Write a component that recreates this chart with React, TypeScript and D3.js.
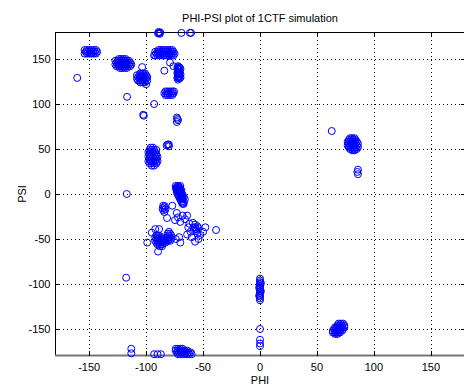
import React from "react";
import * as d3 from "d3";

// Backbone dihedral angles (phi, psi) in degrees, grouped by conformational region
const betaRegion: [number, number][] = [
  // extended strand near (-150, 158)
  [-154, 156], [-152, 156], [-150, 156], [-148, 156], [-146, 156], [-144, 156],
  [-153, 158], [-151, 158], [-149, 158], [-147, 158], [-145, 158], [-143, 158],
  [-154, 160], [-152, 160], [-150, 160], [-148, 160], [-146, 160], [-144, 160],
  // strand near (-120, 145)
  [-123, 140], [-121, 140], [-119, 140], [-117, 140],
  [-126, 142], [-124, 142], [-122, 142], [-120, 142], [-118, 142], [-116, 142], [-114, 142],
  [-127, 144], [-125, 144], [-123, 144], [-121, 144], [-119, 144], [-117, 144], [-115, 144], [-113, 144],
  [-126, 146], [-124, 146], [-122, 146], [-120, 146], [-118, 146], [-116, 146], [-114, 146],
  [-127, 148], [-125, 148], [-123, 148], [-121, 148], [-119, 148], [-117, 148], [-115, 148],
  [-124, 150], [-122, 150], [-120, 150], [-118, 150],
  // strand near (-104, 129)
  [-105, 124], [-103, 124], [-101, 124],
  [-107, 126], [-105, 126], [-103, 126], [-101, 126], [-99, 126],
  [-108, 128], [-106, 128], [-104, 128], [-102, 128], [-100, 128],
  [-107, 130], [-105, 130], [-103, 130], [-101, 130], [-99, 130],
  [-108, 132], [-106, 132], [-104, 132], [-102, 132], [-100, 132],
  [-105, 134], [-103, 134], [-101, 134],
  [-103.5, 141], [-100, 122],
  // scattered
  [-160.5, 129], [-116.7, 108], [-93, 100], [-102.6, 88], [-102, 87],
];

const polyProRegion: [number, number][] = [
  // near (-84, 157)
  [-92, 154], [-90, 154], [-88, 154], [-86, 154], [-84, 154], [-82, 154], [-80, 154], [-78, 154], [-76, 154],
  [-91, 156], [-89, 156], [-87, 156], [-85, 156], [-83, 156], [-81, 156], [-79, 156], [-77, 156], [-75, 156],
  [-92, 158], [-90, 158], [-88, 158], [-86, 158], [-84, 158], [-82, 158], [-80, 158], [-78, 158], [-76, 158],
  [-89, 160], [-87, 160], [-85, 160], [-83, 160], [-81, 160], [-79, 160], [-77, 160],
  [-93, 154], [-79, 146], [-76, 142], [-84, 137],
  // vertical band near (-71, 135)
  [-72, 142], [-70.5, 140.5], [-72, 139], [-70.5, 137.5], [-72, 136], [-70.5, 134.5],
  [-72, 133], [-70.5, 131.5], [-72, 130], [-70.5, 128.5], [-72, 127],
  [-71.3, 141], [-71.3, 138.5], [-71.3, 136], [-71.3, 133.5], [-71.3, 131], [-71.3, 128.5],
  [-72.6, 140.5], [-72.6, 134.5], [-72.6, 129], [-69.8, 139], [-69.8, 133], [-69.8, 129.5],
  // near (-80, 112)
  [-83, 110], [-81, 110], [-79, 110], [-77, 110],
  [-84, 112], [-82, 112], [-80, 112], [-78, 112], [-76, 112],
  [-83, 114], [-81, 114], [-79, 114], [-77, 114], [-75.5, 114],
  // small groups
  [-73, 85], [-72, 82], [-73, 80], [-72.5, 83.5],
  [-88.6, 179], [-88, 178], [-89, 180], [-87.6, 179.5], [-89.6, 178.5],
  [-69, 179], [-61.5, 179], [-60.5, 179],
];

const bridgeRegion: [number, number][] = [
  // near (-94, 42)
  [-96, 51.5], [-94, 51.5],
  [-97, 49], [-95, 49], [-93, 49], [-91, 49],
  [-98, 46.5], [-96, 46.5], [-94, 46.5], [-92, 46.5],
  [-97, 44], [-95, 44], [-93, 44], [-91, 44],
  [-98, 41.5], [-96, 41.5], [-94, 41.5], [-92, 41.5], [-90, 41.5],
  [-97, 39], [-95, 39], [-93, 39], [-91, 39],
  [-98, 36.5], [-96, 36.5], [-94, 36.5], [-92, 36.5], [-90, 36.5],
  [-97, 34], [-95, 34], [-93, 34], [-91, 34],
  [-95, 31.5], [-93, 31.5],
  [-81, 55], [-80, 53], [-82, 54], [-80, 55],
  [-117, 0],
  // diagonal band near (-70, 0)
  [-74, 9], [-72, 9], [-70, 9],
  [-74, 6.5], [-72, 6.5], [-70, 6.5],
  [-73, 4], [-71, 4], [-69, 4],
  [-73, 1.5], [-71, 1.5], [-69, 1.5],
  [-72, -1], [-70, -1], [-68, -1],
  [-71, -3.5], [-69, -3.5], [-67, -3.5],
  [-70, -6], [-68, -6], [-66, -6],
  [-69, -8.5], [-67, -8.5],
  [-68, -11], [-67, -11],
  [-73, 7.8], [-71, 7.8], [-72, 2.8], [-70, 2.8], [-71, -2.2], [-69, -2.2],
  [-70, -4.8], [-68, -4.8], [-68, -9.8], [-69, 0.2], [-73, 5.2], [-71, 5.2],
  // near (-84, -16)
  [-85, -13], [-84, -15], [-85, -18], [-84, -20], [-83, -17], [-85.5, -16], [-83.5, -13.5],
  [-77, -13], [-73, -21], [-81.6, -26.7], [-74.6, -29], [-70, -31], [-64, -24], [-65.8, -28], [-72, -26], [-68, -24],
];

const helixRegion: [number, number][] = [
  // left lobe near (-89, -52)
  [-91, -46], [-89, -46],
  [-92, -48], [-90, -48], [-88, -48], [-86, -48],
  [-91, -50], [-89, -50], [-87, -50], [-85, -50],
  [-92, -52], [-90, -52], [-88, -52], [-86, -52], [-84, -52],
  [-91, -54], [-89, -54], [-87, -54], [-85, -54], [-83, -54],
  [-90, -56], [-88, -56], [-86, -56],
  [-88, -58], [-86, -58],
  // right lobe near (-80, -47)
  [-80, -42], [-81, -44], [-79, -44], [-80, -46], [-78, -46], [-81, -48], [-79, -48],
  [-82, -50], [-80, -50], [-78, -50], [-83, -52], [-81, -52], [-79, -52],
  [-92, -39], [-88.6, -39], [-99, -54], [-89.5, -64], [-71, -48], [-70, -54], [-74, -50], [-95, -43],
  // near (-56, -40)
  [-57, -37], [-55, -36], [-56, -39], [-58, -40], [-54, -38], [-57, -34], [-56, -41.5], [-58.5, -37.5],
  [-63, -37], [-48, -37], [-60, -48], [-57, -53], [-52.6, -45.5], [-61, -42], [-64, -45], [-50, -42],
  [-54, -50], [-59, -32], [-38.6, -40], [-55, -44], [-62, -33],
  [-117.5, -93],
];

const glycineRegion: [number, number][] = [
  // phi = 0 column
  [0, -94], [0, -96], [0, -98], [0, -100], [0, -102], [0, -104], [0, -106], [0, -108],
  [0, -110], [0, -112], [0, -114], [0, -116], [0, -118],
  [0.8, -99], [0.8, -108], [-0.8, -104], [-0.8, -113],
  [0, -150], [0, -162], [0, -169], [0, -166],
  // near (69, -150)
  [69, -144], [71, -144], [73, -144],
  [68, -146], [70, -146], [72, -146], [74, -146],
  [66, -148], [68, -148], [70, -148], [72, -148], [74, -148],
  [65, -150], [67, -150], [69, -150], [71, -150], [73, -150],
  [64, -152], [66, -152], [68, -152], [70, -152], [72, -152],
  [64, -154], [66, -154], [68, -154], [70, -154],
  [66, -155.5], [68, -155.5],
  // left-handed helix near (81, 55)
  [79, 62], [81, 62], [83, 62],
  [78, 60], [80, 60], [82, 60], [84, 60],
  [77, 58], [79, 58], [81, 58], [83, 58], [85, 58],
  [78, 56], [80, 56], [82, 56], [84, 56], [86, 56],
  [77, 54], [79, 54], [81, 54], [83, 54], [85, 54],
  [78, 52], [80, 52], [82, 52], [84, 52], [86, 52],
  [79, 50], [81, 50], [83, 50], [85, 50],
  [81, 48.5], [83, 48.5],
  [63, 70],
  [86, 27], [86, 22], [85.5, 24.5],
];

const wrapRegion: [number, number][] = [
  [-113, -172], [-113, -177],
  [-93, -178], [-90, -178], [-87, -178],
  [-74, -172], [-72, -172], [-70, -172], [-68, -172],
  [-74, -174], [-72, -174], [-70, -174], [-68, -174], [-66, -174], [-64, -174],
  [-73, -176], [-71, -176], [-69, -176], [-67, -176], [-65, -176], [-63, -176], [-61, -176],
  [-72, -178], [-70, -178], [-68, -178], [-66, -178], [-64, -178], [-62, -178], [-60, -178],
];

const tickValues = [-150, -100, -50, 0, 50, 100, 150];

const titleText = "PHI-PSI plot of 1CTF simulation";
const xLabel = "PHI";
const yLabel = "PSI";

const W = 464;
const H = 385;
const left = 55;
const right = 465;
const top = 32;
const bottom = 356;

export default function App() {
  const x = d3.scaleLinear().domain([-180, 180]).range([left, right]);
  const y = d3.scaleLinear().domain([-180, 180]).range([bottom, top]);

  const points = [
    ...betaRegion,
    ...polyProRegion,
    ...bridgeRegion,
    ...helixRegion,
    ...glycineRegion,
    ...wrapRegion,
  ];

  const font = "'Liberation Sans', Arial, Helvetica, sans-serif";
  const tickLen = 4;

  return (
    <svg
      width={W}
      height={H}
      style={{ position: "absolute", left: 0, top: 0, background: "#fff" }}
      fontFamily={font}
    >
      <rect x={0} y={0} width={W} height={H} fill="#fff" />
      {/* dotted grid */}
      {tickValues.map((t) => (
        <g key={"g" + t}>
          <line
            x1={Math.round(x(t)) + 0.5}
            x2={Math.round(x(t)) + 0.5}
            y1={top}
            y2={bottom}
            stroke="#000"
            strokeWidth={1}
            strokeDasharray="1,3"
          />
          <line
            x1={left}
            x2={right}
            y1={Math.round(y(t)) + 0.5}
            y2={Math.round(y(t)) + 0.5}
            stroke="#000"
            strokeWidth={1}
            strokeDasharray="1,3"
          />
        </g>
      ))}
      {/* axes box */}
      <line x1={left + 0.5} x2={left + 0.5} y1={top} y2={bottom} stroke="#000" strokeWidth={1} />
      <line x1={right - 0.5} x2={right - 0.5} y1={top} y2={bottom} stroke="#000" strokeWidth={1} />
      <line x1={left} x2={right} y1={top + 0.5} y2={top + 0.5} stroke="#000" strokeWidth={1} />
      <line x1={left} x2={right} y1={bottom - 0.5} y2={bottom - 0.5} stroke="#777" strokeWidth={2} />
      {/* tick marks and labels */}
      {tickValues.map((t) => {
        const tx = Math.round(x(t)) + 0.5;
        const ty = Math.round(y(t)) + 0.5;
        return (
          <g key={"t" + t}>
            <line x1={tx} x2={tx} y1={bottom} y2={bottom - tickLen - 1} stroke="#000" />
            <line x1={tx} x2={tx} y1={top} y2={top + tickLen} stroke="#000" />
            <line x1={left} x2={left + tickLen} y1={ty} y2={ty} stroke="#000" />
            <line x1={right} x2={right - tickLen} y1={ty} y2={ty} stroke="#000" />
            <text x={x(t)} y={370.5} fontSize={11} textAnchor="middle" fill="#000">
              {t}
            </text>
            <text x={50.5} y={y(t) + 4} fontSize={11} textAnchor="end" fill="#000">
              {t}
            </text>
          </g>
        );
      })}
      {/* markers */}
      {points.map(([phi, psi], i) => (
        <circle
          key={i}
          cx={x(phi)}
          cy={y(psi)}
          r={3.5}
          fill="none"
          stroke="#0000ff"
          strokeWidth={1}
        />
      ))}
      {/* labels */}
      <text x={(left + right) / 2} y={22} fontSize={11} textAnchor="middle" fill="#000">
        {titleText}
      </text>
      <text x={(left + right) / 2} y={384} fontSize={11} textAnchor="middle" fill="#000">
        {xLabel}
      </text>
      <text
        transform={`translate(25.5, ${(top + bottom) / 2}) rotate(-90)`}
        fontSize={11}
        textAnchor="middle"
        fill="#000"
      >
        {yLabel}
      </text>
    </svg>
  );
}
